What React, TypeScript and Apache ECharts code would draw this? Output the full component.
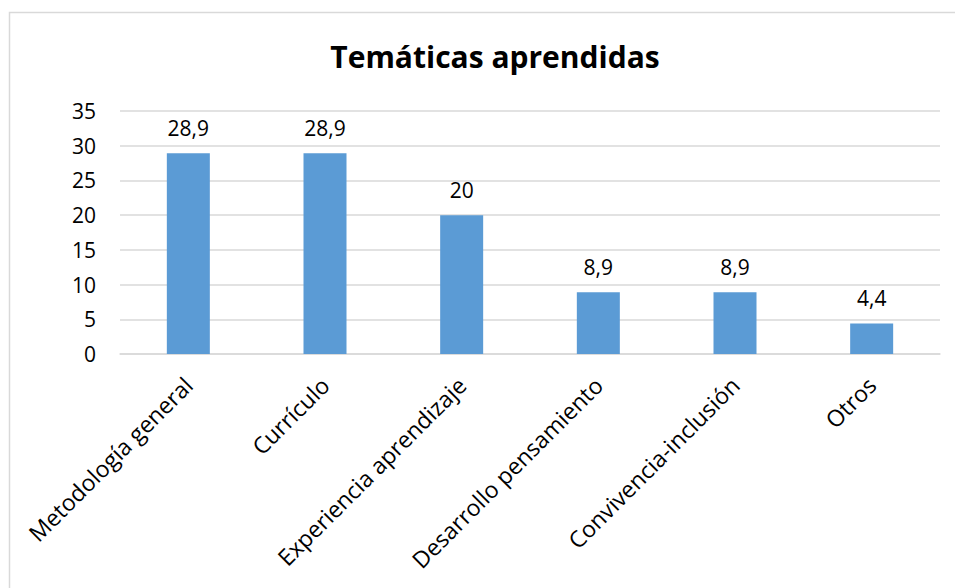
import React, { useEffect, useRef } from "react";
import * as echarts from "echarts";

const categories = [
  "Metodología general",
  "Currículo",
  "Experiencia aprendizaje",
  "Desarrollo pensamiento",
  "Convivencia-inclusión",
  "Otros",
];
const values = [28.9, 28.9, 20, 8.9, 8.9, 4.4];
const titleText = "Temáticas aprendidas";

const FONT = "'Open Sans', 'Noto Sans', sans-serif";

export default function App() {
  const ref = useRef<HTMLDivElement>(null);
  useEffect(() => {
    if (!ref.current) return;
    const chart = echarts.init(ref.current, null, { renderer: "svg" });
    chart.setOption({
      animation: false,
      backgroundColor: "#ffffff",
      title: {
        text: titleText,
        left: 490,
        textAlign: "center",
        top: 36,
        textStyle: { fontFamily: FONT, fontSize: 30, fontWeight: "bold", color: "#000" },
      },
      graphic: [
        {
          type: "rect",
          shape: { x: 9.5, y: 12.5, width: 960, height: 600 },
          style: { fill: "none", stroke: "#d9d9d9", lineWidth: 1.5 },
          silent: true,
        },
      ],
      grid: { left: 120, right: 15, top: 111, bottom: 234, containLabel: false },
      xAxis: {
        type: "category",
        data: categories,
        axisLine: { show: true, lineStyle: { color: "#d9d9d9", width: 1.5 } },
        axisTick: { show: false },
        axisLabel: {
          rotate: 45,
          interval: 0,
          margin: 27,
          color: "#000",
          fontFamily: FONT,
          fontSize: 23,
        },
      },
      yAxis: {
        type: "value",
        min: 0,
        max: 35,
        interval: 5,
        axisLine: { show: false },
        axisTick: { show: false },
        axisLabel: { color: "#000", fontFamily: FONT, fontSize: 21, margin: 24 },
        splitLine: { lineStyle: { color: "#d9d9d9", width: 1.5 } },
      },
      series: [
        {
          type: "bar",
          data: values,
          barWidth: 43,
          itemStyle: { color: "#5B9BD5" },
          label: {
            show: true,
            position: "top",
            distance: 15,
            color: "#000",
            fontFamily: FONT,
            fontSize: 21,
            formatter: (p: any) => String(p.value).replace(".", ","),
          },
        },
      ],
    });
    return () => chart.dispose();
  }, []);
  return (
    <div
      ref={ref}
      style={{ position: "fixed", left: 0, top: 0, width: 955, height: 588 }}
    />
  );
}
